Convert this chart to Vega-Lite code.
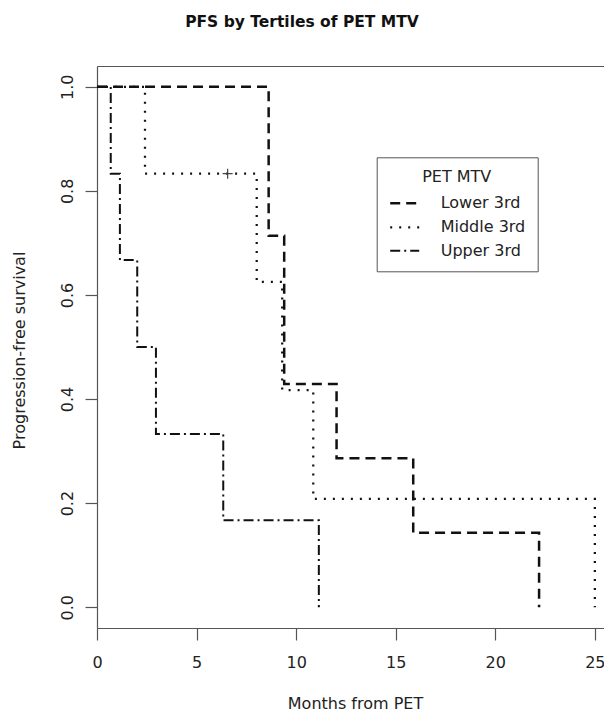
{
  "$schema": "https://vega.github.io/schema/vega-lite/v6.json",
  "width": 507,
  "height": 562,
  "autosize": {"type": "none"},
  "padding": {"left": 97, "top": 66, "right": 0, "bottom": 83},
  "background": "white",
  "title": {
    "text": "PFS by Tertiles of PET MTV",
    "font": "DejaVu Sans",
    "fontSize": 15.5,
    "fontWeight": "bold",
    "color": "#111",
    "anchor": "middle",
    "frame": "group",
    "dx": -48.5,
    "baseline": "alphabetic",
    "offset": 24
  },
  "config": {
    "view": {"stroke": null},
    "font": "DejaVu Sans",
    "axis": {
      "grid": false,
      "domainColor": "#555",
      "domainWidth": 1.2,
      "tickColor": "#555",
      "tickWidth": 1.2,
      "tickSize": 12,
      "labelFont": "DejaVu Sans",
      "labelFontSize": 16,
      "labelColor": "#222",
      "titleFont": "DejaVu Sans",
      "titleFontSize": 16,
      "titleFontWeight": "normal",
      "titleColor": "#222"
    }
  },
  "datasets": {
    "km": [
      {"group": "Lower 3rd", "time": 0, "surv": 1},
      {"group": "Lower 3rd", "time": 8.62, "surv": 0.714},
      {"group": "Lower 3rd", "time": 9.4, "surv": 0.429},
      {"group": "Lower 3rd", "time": 12.03, "surv": 0.286},
      {"group": "Lower 3rd", "time": 15.88, "surv": 0.143},
      {"group": "Lower 3rd", "time": 22.2, "surv": 0},
      {"group": "Middle 3rd", "time": 0, "surv": 1},
      {"group": "Middle 3rd", "time": 2.41, "surv": 0.833},
      {"group": "Middle 3rd", "time": 8.02, "surv": 0.625},
      {"group": "Middle 3rd", "time": 9.3, "surv": 0.417},
      {"group": "Middle 3rd", "time": 10.86, "surv": 0.208},
      {"group": "Middle 3rd", "time": 25.0, "surv": 0},
      {"group": "Upper 3rd", "time": 0, "surv": 1},
      {"group": "Upper 3rd", "time": 0.69, "surv": 0.833},
      {"group": "Upper 3rd", "time": 1.15, "surv": 0.667},
      {"group": "Upper 3rd", "time": 2.02, "surv": 0.5},
      {"group": "Upper 3rd", "time": 2.96, "surv": 0.333},
      {"group": "Upper 3rd", "time": 6.34, "surv": 0.167},
      {"group": "Upper 3rd", "time": 11.14, "surv": 0}
    ],
    "censor": [
      {"group": "Middle 3rd", "time": 6.56, "surv": 0.833}
    ]
  },
  "layer": [
    {
      "data": {"name": "km"},
      "mark": {"type": "line", "interpolate": "step-after", "color": "#111"},
      "encoding": {
        "x": {
          "field": "time", "type": "quantitative", "title": "Months from PET",
          "scale": {"domain": [0, 25.46], "nice": false, "zero": false},
          "axis": {
            "orient": "bottom",
            "values": [0, 5, 10, 15, 20, 25],
            "format": "d",
            "labelBaseline": "alphabetic",
            "labelPadding": 27,
            "labelFlush": false,
            "labelOverlap": false,
            "titleBaseline": "alphabetic",
            "titleAnchor": "start",
            "titleAlign": "center",
            "titleX": 258,
            "titleY": 80
          }
        },
        "y": {
          "field": "surv", "type": "quantitative", "title": "Progression-free survival",
          "scale": {"domain": [-0.04, 1.04], "nice": false, "zero": false},
          "axis": {
            "values": [0, 0.2, 0.4, 0.6, 0.8, 1.0],
            "format": ".1f",
            "labelAngle": 270,
            "labelAlign": "center",
            "labelBaseline": "alphabetic",
            "labelPadding": 13,
            "labelFlush": false,
            "labelOverlap": false,
            "titleAngle": 270,
            "titleAlign": "center",
            "titleBaseline": "alphabetic",
            "titleX": -72.5,
            "titleY": 284
          }
        },
        "strokeDash": {
          "field": "group", "type": "nominal",
          "scale": {
            "domain": ["Lower 3rd", "Middle 3rd", "Upper 3rd"],
            "range": [[10, 6], [2, 7], [10, 4, 2, 4]]
          },
          "legend": {
            "orient": "none",
            "legendX": 279.7,
            "legendY": 91.3,
            "title": "PET MTV",
            "titleAnchor": "middle",
            "titleFont": "DejaVu Sans",
            "titleFontSize": 16,
            "titleFontWeight": "normal",
            "titleColor": "#222",
            "titlePadding": 2,
            "labelFont": "DejaVu Sans",
            "labelFontSize": 16,
            "labelColor": "#222",
            "labelOffset": 20,
            "symbolType": "stroke",
            "symbolSize": 841,
            "symbolStrokeWidth": 2,
            "symbolStrokeColor": "#111",
            "strokeColor": "#555",
            "fillColor": "white",
            "padding": 12,
            "rowPadding": -4.5
          }
        },
        "strokeWidth": {
          "field": "group", "type": "nominal",
          "scale": {"domain": ["Lower 3rd", "Middle 3rd", "Upper 3rd"], "range": [2.5, 2, 2.5]},
          "legend": null
        }
      }
    },
    {
      "data": {"name": "censor"},
      "mark": {"type": "point", "shape": "M-1,0H1M0,-1V1", "size": 100, "stroke": "#444", "strokeWidth": 1.2, "filled": false, "opacity": 1},
      "encoding": {
        "x": {
          "field": "time", "type": "quantitative", "title": "Months from PET",
          "axis": {"orient": "top", "labels": false, "ticks": false, "domain": true, "title": null}
        },
        "y": {"field": "surv", "type": "quantitative", "title": "Progression-free survival"}
      }
    }
  ],
  "resolve": {"axis": {"x": "independent"}}
}
